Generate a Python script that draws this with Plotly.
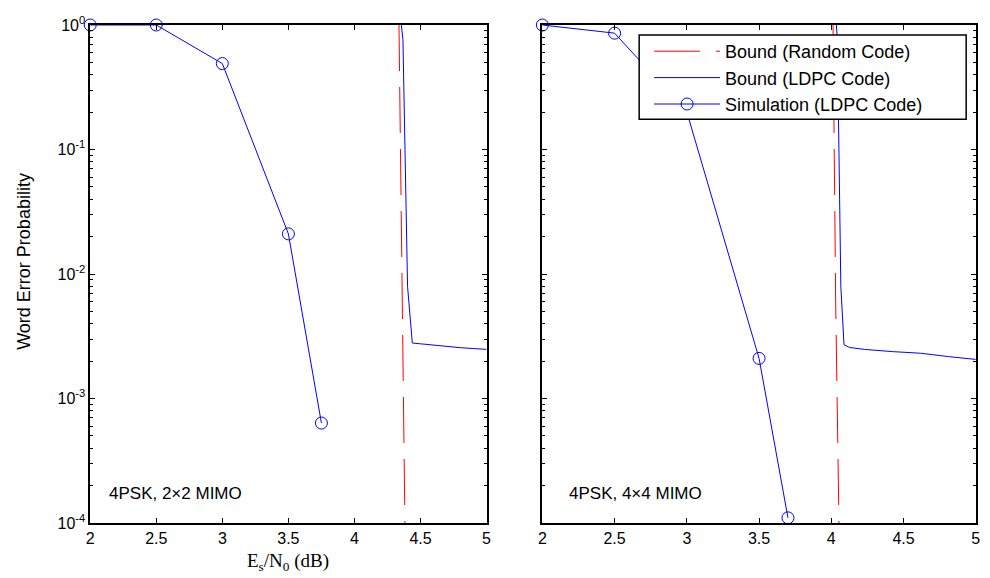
import plotly.graph_objects as go

# ---------------- data ----------------
x_sim_2x2 = [2.0, 2.5, 3.0, 3.5, 3.75]
wep_sim_2x2 = [1.0, 1.0, 0.49, 0.021, 6.35e-4]
x_sim_4x4 = [2.0, 2.5, 3.0, 3.5, 3.7]
wep_sim_4x4 = [1.0, 0.86, 0.2, 2.1e-3, 1.1e-4]

x_rand_2x2 = [4.337, 4.367, 4.382]
wep_rand_2x2 = [1.0, 3.4e-3, 1e-4]
x_rand_4x4 = [4.012, 4.030, 4.053]
wep_rand_4x4 = [1.0, 6.2e-3, 1e-4]

x_ldpc_2x2 = [4.355, 4.367, 4.402, 4.417, 4.438, 4.5, 4.6, 4.7, 4.8, 4.9, 5.0]
wep_ldpc_2x2 = [1.0, 0.76, 7.9e-3, 4.9e-3, 2.79e-3, 2.75e-3, 2.68e-3, 2.62e-3,
                2.56e-3, 2.52e-3, 2.48e-3]
x_ldpc_4x4 = [4.035, 4.042, 4.066, 4.076, 4.088, 4.126, 4.229, 4.424, 4.618, 4.812, 5.0]
wep_ldpc_4x4 = [1.0, 0.76, 7.9e-3, 4.9e-3, 2.7e-3, 2.57e-3, 2.48e-3, 2.38e-3,
                2.31e-3, 2.17e-3, 2.06e-3]

x_ticks = [2, 2.5, 3, 3.5, 4, 4.5, 5]
y_ticks = [1e-4, 1e-3, 1e-2, 1e-1, 1]
y_tick_text = ["10<sup>-4</sup>", "10<sup>-3</sup>", "10<sup>-2</sup>",
               "10<sup>-1</sup>", "10<sup>0</sup>"]
panel_labels = ["4PSK, 2\u00d72 MIMO", "4PSK, 4\u00d74 MIMO"]
series_names = ["Bound (Random Code)", "Bound (LDPC Code)", "Simulation (LDPC Code)"]

# ---------------- figure ----------------
W, H = 990, 578
ML, MR, MT, MB = 0, 0, 25, 55
PH = H - MT - MB

def px_x(p):
    return p / W

def px_y(p):
    return (H - MB - p) / PH

SANS = "Liberation Sans, Arial, Helvetica, sans-serif"
SERIF = "Liberation Serif, Times New Roman, serif"
RED = "#ff0000"
BLUE = "#0000ff"

fig = go.Figure()

panels = [
    ("x", "y", x_rand_2x2, wep_rand_2x2, x_ldpc_2x2, wep_ldpc_2x2, x_sim_2x2, wep_sim_2x2, False),
    ("x2", "y2", x_rand_4x4, wep_rand_4x4, x_ldpc_4x4, wep_ldpc_4x4, x_sim_4x4, wep_sim_4x4, True),
]
for xa, ya, xr, yr, xl, yl, xs, ys, show in panels:
    fig.add_trace(go.Scatter(x=xr, y=yr, xaxis=xa, yaxis=ya, mode="lines",
                             name=series_names[0], legendgroup="a", showlegend=show,
                             line=dict(color=RED, width=1, dash="46px,16px")))
    fig.add_trace(go.Scatter(x=xl, y=yl, xaxis=xa, yaxis=ya, mode="lines",
                             name=series_names[1], legendgroup="b", showlegend=show,
                             line=dict(color=BLUE, width=1)))
    fig.add_trace(go.Scatter(x=xs, y=ys, xaxis=xa, yaxis=ya, mode="lines+markers",
                             name=series_names[2], legendgroup="c", showlegend=show,
                             cliponaxis=False,
                             line=dict(color=BLUE, width=1),
                             marker=dict(symbol="circle-open", size=12,
                                         color=BLUE, line=dict(width=1, color=BLUE))))

minor_vals = [m * 10.0 ** e for e in range(-4, 0) for m in range(2, 10)]

xaxis_common = dict(range=[2, 5], tickvals=x_ticks, ticks="inside", ticklen=5,
                    tickcolor="black", showline=True, linecolor="black", linewidth=1.5,
                    mirror="ticks", showgrid=False, zeroline=False,
                    tickfont=dict(family=SANS, size=16, color="black"))
yaxis_common = dict(type="log", range=[-4, 0], tickvals=y_ticks, ticktext=y_tick_text,
                    ticks="inside", ticklen=5, tickcolor="black", showline=True,
                    linecolor="black", linewidth=1.5, mirror="ticks", showgrid=False,
                    zeroline=False,
                    minor=dict(tickvals=minor_vals, ticks="inside", ticklen=3,
                               tickcolor="black", showgrid=False),
                    tickfont=dict(family=SANS, size=16, color="black"))

fig.update_layout(
    width=W, height=H,
    margin=dict(l=ML, r=MR, t=MT, b=MB),
    paper_bgcolor="white", plot_bgcolor="white",
    font=dict(family=SANS, size=16, color="black"),
    xaxis=dict(domain=[px_x(87), px_x(487)], anchor="y", **xaxis_common),
    yaxis=dict(domain=[0, 1], anchor="x", **yaxis_common),
    xaxis2=dict(domain=[px_x(543.3), px_x(980.7)], anchor="y2", **xaxis_common),
    yaxis2=dict(domain=[0, 1], anchor="x2", showticklabels=False, **yaxis_common),
    legend=dict(x=px_x(651), y=px_y(33), xanchor="left", yanchor="top",
                bgcolor="rgba(0,0,0,0)", borderwidth=0, itemwidth=66,
                traceorder="grouped", tracegroupgap=0,
                font=dict(family=SANS, size=18, color="black")),
    showlegend=True,
)

# legend frame
fig.add_shape(type="rect", xref="paper", yref="paper",
              x0=px_x(641), x1=px_x(971), y0=px_y(119.3), y1=px_y(35),
              line=dict(color="black", width=1.5), fillcolor="white", layer="above")

# panel labels
fig.add_annotation(text=panel_labels[0], xref="paper", yref="paper",
                   x=px_x(104), y=px_y(494), xanchor="left", yanchor="middle",
                   showarrow=False, font=dict(family=SANS, size=17, color="black"))
fig.add_annotation(text=panel_labels[1], xref="paper", yref="paper",
                   x=px_x(567.7), y=px_y(494), xanchor="left", yanchor="middle",
                   showarrow=False, font=dict(family=SANS, size=17, color="black"))

# axis titles
fig.add_annotation(text="Word Error Probability", xref="paper", yref="paper",
                   x=px_x(20), y=px_y(261), xanchor="center", yanchor="middle",
                   textangle=-90, showarrow=False,
                   font=dict(family=SANS, size=18, color="black"))
fig.add_annotation(text="E<sub>s</sub>/N<sub>0</sub> (dB)", xref="paper", yref="paper",
                   x=px_x(287), y=px_y(562), xanchor="center", yanchor="middle",
                   showarrow=False, font=dict(family=SERIF, size=19, color="black"))

fig.write_html("out.html", config={"displayModeBar": False},
               post_script="document.body.style.margin='0px';document.body.style.overflow='hidden';")
